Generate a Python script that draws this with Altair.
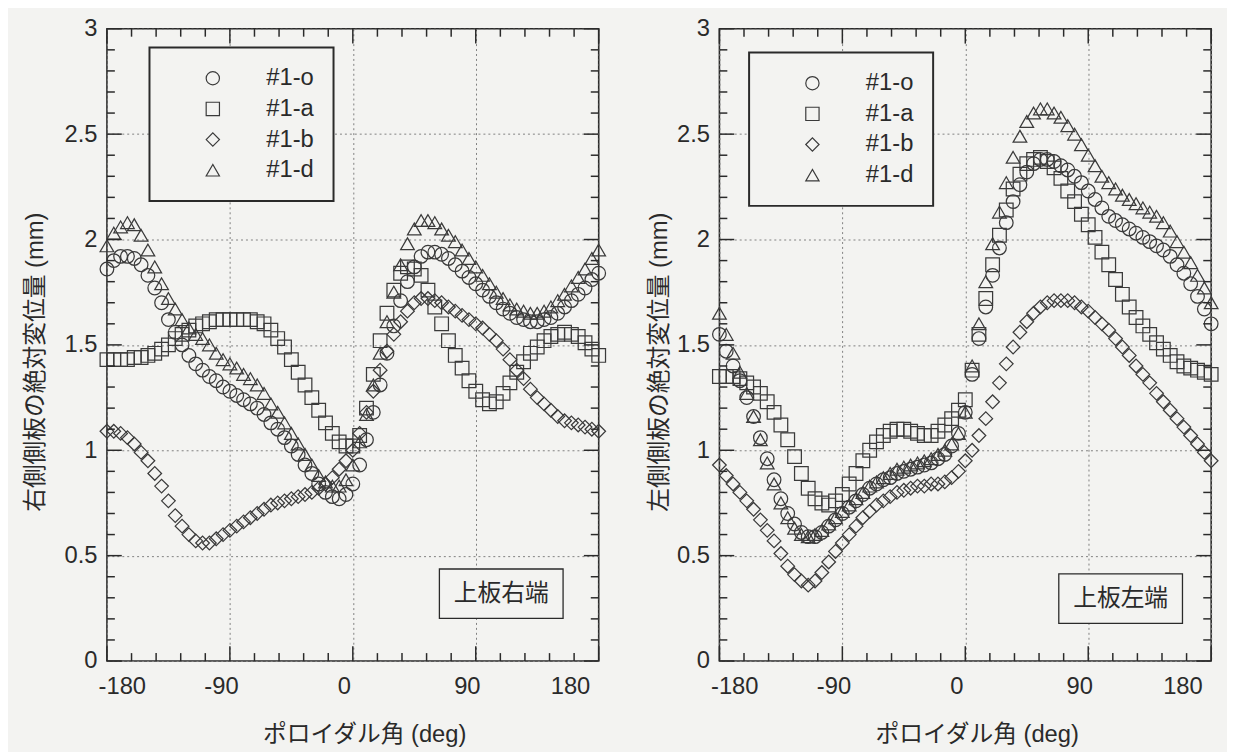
import altair as alt
import pandas as pd

# ---------------- data ----------------
angles = list(range(-180, 181, 5))
series_names = ["#1-o", "#1-a", "#1-b", "#1-d"]
series_shapes = ["circle", "square", "diamond", "triangle-up"]

# left panel: 右側側板 (上板右端)
o_left = [1.86, 1.90, 1.92, 1.92, 1.91, 1.88, 1.83, 1.77, 1.70, 1.62,
          1.56, 1.50, 1.45, 1.41, 1.38, 1.35, 1.33, 1.30, 1.28, 1.26,
          1.24, 1.22, 1.20, 1.17, 1.13, 1.10, 1.06, 1.02, 0.98, 0.93,
          0.89, 0.84, 0.80, 0.78, 0.77, 0.79, 0.84, 0.93, 1.05, 1.18,
          1.31, 1.46, 1.59, 1.71, 1.80, 1.87, 1.92, 1.94, 1.94, 1.93,
          1.91, 1.88, 1.85, 1.82, 1.79, 1.76, 1.73, 1.70, 1.67, 1.65,
          1.63, 1.62, 1.61, 1.61, 1.62, 1.63, 1.65, 1.68, 1.71, 1.74,
          1.77, 1.81, 1.84]
a_left = [1.43, 1.43, 1.43, 1.43, 1.44, 1.44, 1.45, 1.46, 1.48, 1.50,
          1.53, 1.55, 1.57, 1.59, 1.60, 1.61, 1.62, 1.62, 1.62, 1.62,
          1.62, 1.62, 1.61, 1.60, 1.57, 1.53, 1.49, 1.43, 1.37, 1.31,
          1.25, 1.19, 1.13, 1.08, 1.04, 1.02, 1.02, 1.07, 1.20, 1.36,
          1.52, 1.65, 1.76, 1.84, 1.87, 1.86, 1.83, 1.76, 1.68, 1.60,
          1.52, 1.45, 1.39, 1.33, 1.28, 1.24, 1.22, 1.23, 1.27, 1.32,
          1.37, 1.42, 1.46, 1.49, 1.52, 1.54, 1.55, 1.56, 1.55, 1.54,
          1.51, 1.48, 1.45]
b_left = [1.09, 1.09, 1.08, 1.06, 1.03, 0.99, 0.95, 0.89, 0.83, 0.76,
          0.69, 0.64, 0.60, 0.57, 0.56, 0.56, 0.58, 0.60, 0.62, 0.64,
          0.66, 0.68, 0.70, 0.72, 0.74, 0.75, 0.76, 0.77, 0.78, 0.79,
          0.80, 0.82, 0.84, 0.87, 0.91, 0.95, 1.00, 1.08, 1.18, 1.28,
          1.38, 1.47, 1.55, 1.61, 1.66, 1.70, 1.72, 1.72, 1.71, 1.70,
          1.68, 1.66, 1.64, 1.62, 1.60, 1.58, 1.55, 1.52, 1.48, 1.43,
          1.38, 1.34, 1.29, 1.25, 1.22, 1.19, 1.16, 1.14, 1.13, 1.12,
          1.11, 1.10, 1.09]
d_left = [1.97, 2.03, 2.06, 2.08, 2.07, 2.02, 1.95, 1.87, 1.79, 1.72,
          1.67, 1.62, 1.58, 1.55, 1.53, 1.50, 1.46, 1.43, 1.41, 1.39,
          1.36, 1.34, 1.31, 1.27, 1.22, 1.18, 1.13, 1.08, 1.03, 0.98,
          0.93, 0.88, 0.85, 0.83, 0.83, 0.86, 0.93, 1.04, 1.17, 1.31,
          1.46, 1.61, 1.75, 1.88, 1.98, 2.05, 2.09, 2.09, 2.08, 2.05,
          2.02, 1.99, 1.95, 1.91, 1.87, 1.83, 1.79, 1.75, 1.72, 1.69,
          1.67, 1.66, 1.65, 1.65, 1.66, 1.68, 1.71, 1.74, 1.78, 1.82,
          1.86, 1.91, 1.95]

# right panel: 左側側板 (上板左端)
o_right = [1.55, 1.47, 1.40, 1.33, 1.25, 1.16, 1.06, 0.96, 0.86, 0.77,
           0.70, 0.65, 0.61, 0.59, 0.59, 0.61, 0.64, 0.67, 0.70, 0.73,
           0.76, 0.79, 0.82, 0.84, 0.86, 0.87, 0.89, 0.90, 0.91, 0.92,
           0.93, 0.94, 0.96, 0.98, 1.02, 1.08, 1.18, 1.36, 1.53, 1.68,
           1.83, 1.96, 2.08, 2.18, 2.26, 2.32, 2.36, 2.38, 2.38, 2.37,
           2.35, 2.33, 2.30, 2.27, 2.23, 2.19, 2.15, 2.11, 2.09, 2.07,
           2.05, 2.03, 2.01, 1.99, 1.97, 1.95, 1.92, 1.88, 1.84, 1.79,
           1.73, 1.67, 1.60]
a_right = [1.35, 1.35, 1.35, 1.34, 1.32, 1.30, 1.27, 1.23, 1.18, 1.12,
           1.05, 0.97, 0.89, 0.82, 0.77, 0.75, 0.74, 0.76, 0.79, 0.84,
           0.89, 0.95, 1.00, 1.04, 1.07, 1.09, 1.10, 1.10, 1.09, 1.08,
           1.07, 1.07, 1.09, 1.12, 1.15, 1.19, 1.24, 1.38, 1.55, 1.72,
           1.88, 2.02, 2.14, 2.24, 2.31, 2.36, 2.38, 2.39, 2.37, 2.34,
           2.29, 2.23, 2.18, 2.12, 2.07, 2.01, 1.94, 1.88, 1.81, 1.74,
           1.68, 1.63, 1.59, 1.55, 1.51, 1.48, 1.45, 1.42, 1.40, 1.39,
           1.38, 1.37, 1.36]
b_right = [0.93, 0.88, 0.84, 0.80, 0.76, 0.72, 0.67, 0.62, 0.57, 0.51,
           0.45, 0.41, 0.38, 0.36, 0.38, 0.42, 0.47, 0.52, 0.56, 0.60,
           0.64, 0.68, 0.71, 0.74, 0.76, 0.78, 0.80, 0.81, 0.82, 0.83,
           0.83, 0.84, 0.84, 0.85, 0.87, 0.90, 0.95, 1.00, 1.07, 1.15,
           1.23, 1.32, 1.41, 1.49, 1.56, 1.61, 1.65, 1.68, 1.70, 1.71,
           1.71, 1.71, 1.70, 1.68, 1.66, 1.63, 1.60, 1.57, 1.53, 1.49,
           1.45, 1.40, 1.36, 1.32, 1.27, 1.23, 1.19, 1.15, 1.11, 1.07,
           1.03, 0.99, 0.95]
d_right = [1.65, 1.55, 1.46, 1.37, 1.27, 1.16, 1.05, 0.94, 0.84, 0.75,
           0.68, 0.63, 0.60, 0.59, 0.60, 0.62, 0.65, 0.68, 0.71, 0.74,
           0.77, 0.80, 0.83, 0.85, 0.87, 0.89, 0.91, 0.92, 0.93, 0.94,
           0.95, 0.96, 0.98, 1.00, 1.03, 1.08, 1.18, 1.40, 1.60, 1.80,
           1.98, 2.13, 2.27, 2.39, 2.49, 2.56, 2.60, 2.62, 2.62, 2.60,
           2.58, 2.54, 2.50, 2.45, 2.40, 2.35, 2.30, 2.27, 2.24, 2.21,
           2.19, 2.17, 2.15, 2.13, 2.11, 2.08, 2.04, 1.99, 1.94, 1.89,
           1.83, 1.77, 1.70]

x_tick_labels = [-180, -90, 0, 90, 180]
x_minor_ticks = [-162, -144, -126, -108, -72, -54, -36, -18,
                 18, 36, 54, 72, 108, 126, 144, 162]
y_tick_labels = [0, 0.5, 1, 1.5, 2, 2.5, 3]
y_minor_ticks = [0.1, 0.2, 0.3, 0.4, 0.6, 0.7, 0.8, 0.9,
                 1.1, 1.2, 1.3, 1.4, 1.6, 1.7, 1.8, 1.9,
                 2.1, 2.2, 2.3, 2.4, 2.6, 2.7, 2.8, 2.9]

x_title = "ポロイダル角 (deg)"
left_y_title = "右側側板の絶対変位量 (mm)"
right_y_title = "左側側板の絶対変位量 (mm)"
left_note = ["上板右端"]
right_note = ["上板左端"]

# ---------------- style ----------------
W, H = 497, 639
BG = "#f3f3f1"
INK = "#2a2a2a"
MARK = "#3a3a3a"
LATIN = "Liberation Sans"
MIXED = "Liberation Sans, Noto Sans CJK JP"
CJK = "Noto Sans CJK JP"
MAJOR, MINOR = 15, 8
XDOM = alt.Scale(domain=[-180, 180], nice=False, zero=False)
YDOM = alt.Scale(domain=[0, 3], nice=False, zero=False)


def long_df(cols):
    rows = []
    for name, vals in zip(series_names, cols):
        for a, v in zip(angles, vals):
            rows.append({"angle": a, "value": v, "series": name})
    return pd.DataFrame(rows)


def tick_layers(xs, ys, length):
    dx = pd.DataFrame({"angle": xs})
    dy = pd.DataFrame({"value": ys})
    rule = dict(color=INK, strokeWidth=1.5)
    xenc = alt.X("angle:Q", scale=XDOM)
    yenc = alt.Y("value:Q", scale=YDOM)
    return [
        alt.Chart(dx).mark_rule(**rule).encode(x=xenc, y=alt.value(H), y2=alt.value(H - length)),
        alt.Chart(dx).mark_rule(**rule).encode(x=xenc, y=alt.value(0), y2=alt.value(length)),
        alt.Chart(dy).mark_rule(**rule).encode(y=yenc, x=alt.value(0), x2=alt.value(length)),
        alt.Chart(dy).mark_rule(**rule).encode(y=yenc, x=alt.value(W), x2=alt.value(W - length)),
    ]


def panel(cols, y_title, note, legend_xy, box, y_title_x):
    df = long_df(cols)
    points = alt.Chart(df).mark_point(
        filled=False, size=190, strokeWidth=1.25, color=MARK, opacity=1
    ).encode(
        x=alt.X("angle:Q", scale=XDOM,
                axis=alt.Axis(values=x_tick_labels, title=x_title, labelOffset=-9,
                              labelExpr="'' + datum.value",
                              labelPadding=14, titleX=260, titleY=81,
                              titleBaseline="alphabetic", titleAlign="center")),
        y=alt.Y("value:Q", scale=YDOM,
                axis=alt.Axis(values=y_tick_labels, title=y_title, format="~g",
                              labelPadding=10, titleX=y_title_x, titleY=H / 2 + 17,
                              titleAngle=-90, titleAlign="center",
                              titleBaseline="middle")),
        shape=alt.Shape("series:N",
                        scale=alt.Scale(domain=series_names, range=series_shapes),
                        legend=alt.Legend(
                            title=None, orient="none",
                            legendX=legend_xy[0], legendY=legend_xy[1],
                            direction="vertical", fillColor=BG,
                            strokeColor=INK, padding=19,
                            symbolSize=180, symbolStrokeWidth=1.2,
                            symbolStrokeColor=MARK, symbolOffset=33,
                            labelOffset=42, labelFont=LATIN, labelFontSize=24,
                            labelColor=INK, rowPadding=7)),
    )
    ndf = pd.DataFrame({"label": note})
    x0, x1, y0, y1 = box
    rect = alt.Chart(ndf).mark_rect(fill=BG, stroke=INK, strokeWidth=1.3).encode(
        x=alt.value(x0), x2=alt.value(x1), y=alt.value(y0), y2=alt.value(y1))
    text = alt.Chart(ndf).mark_text(
        font=CJK, fontSize=24, color=INK, align="center", baseline="middle"
    ).encode(text="label:N", x=alt.value((x0 + x1) / 2), y=alt.value((y0 + y1) / 2))
    layers = [points]
    layers += tick_layers(x_minor_ticks, y_minor_ticks, MINOR)
    layers += tick_layers(x_tick_labels, y_tick_labels, MAJOR)
    layers += [rect, text]
    return alt.layer(*layers).properties(width=W, height=H)


left = panel([o_left, a_left, b_left, d_left], left_y_title, left_note,
             (43, 19), (336, 461, 546, 596), -72)
right = panel([o_right, a_right, b_right, d_right], right_y_title, right_note,
              (30, 24), (343, 468, 551, 601), -60)

chart = alt.hconcat(left, right, spacing=38).resolve_scale(
    x="independent", y="independent", shape="independent"
).resolve_legend(shape="independent").properties(
    background=BG,
    padding={"left": 15, "top": 4, "right": 5, "bottom": 5},
).configure_axis(
    labelFont=LATIN, labelFontSize=24, labelColor=INK,
    titleFont=MIXED, titleFontSize=24, titleFontWeight="normal", titleColor=INK,
    domain=False, ticks=False, grid=True, gridColor="#808080",
    gridDash=[2, 3], gridWidth=1,
).configure_legend(
    strokeWidth=2, cornerRadius=0,
).configure_view(stroke=INK, strokeWidth=1.6)

chart.save("out.html", embed_options={"renderer": "svg", "actions": False})
